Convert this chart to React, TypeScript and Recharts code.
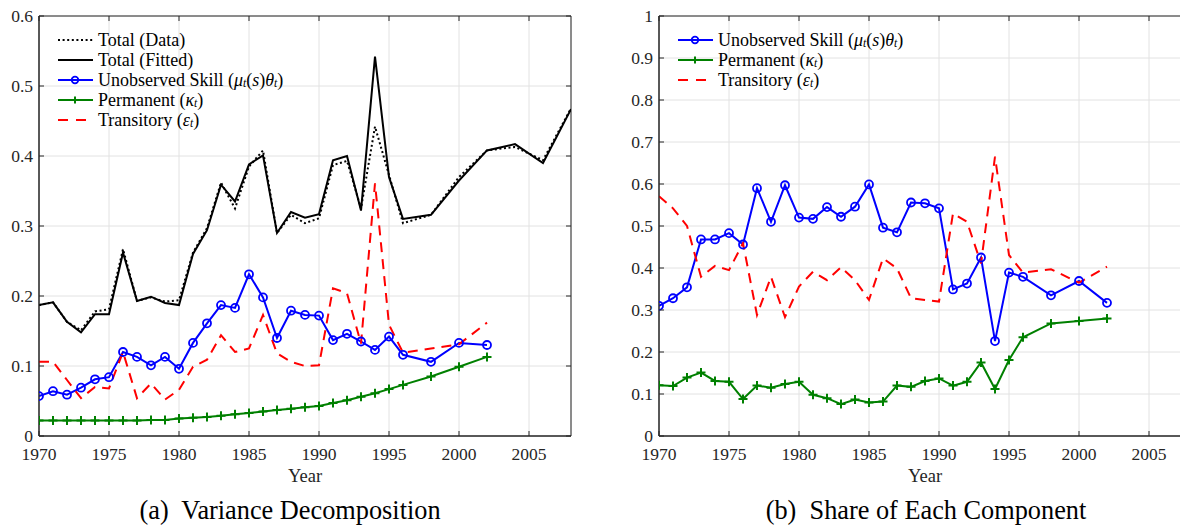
import React from 'react';
import { LineChart, Line, XAxis, YAxis, CartesianGrid, Legend, ReferenceArea } from 'recharts';

// ---------- data ----------
const totalYears = [
  1970, 1971, 1972, 1973, 1974, 1975, 1976, 1977, 1978, 1979, 1980, 1981, 1982, 1983, 1984,
  1985, 1986, 1987, 1988, 1989, 1990, 1991, 1992, 1993, 1994, 1995, 1996, 1998, 2000, 2002,
  2004, 2006, 2008,
];
const componentYears = [
  1970, 1971, 1972, 1973, 1974, 1975, 1976, 1977, 1978, 1979, 1980, 1981, 1982, 1983, 1984,
  1985, 1986, 1987, 1988, 1989, 1990, 1991, 1992, 1993, 1994, 1995, 1996, 1998, 2000, 2002,
];
const totalData = [
  0.187, 0.191, 0.163, 0.151, 0.178, 0.181, 0.267, 0.193, 0.198, 0.192, 0.194, 0.262, 0.297,
  0.362, 0.325, 0.385, 0.408, 0.29, 0.316, 0.304, 0.311, 0.387, 0.393, 0.325, 0.442, 0.373,
  0.304, 0.316, 0.37, 0.408, 0.413, 0.394, 0.468,
];
const totalFitted = [
  0.187, 0.191, 0.163, 0.148, 0.174, 0.174, 0.262, 0.193, 0.199, 0.19, 0.187, 0.26, 0.294,
  0.359, 0.335, 0.388, 0.401, 0.29, 0.32, 0.312, 0.317, 0.394, 0.4, 0.322, 0.542, 0.37, 0.31,
  0.316, 0.365, 0.408, 0.417, 0.39, 0.467,
];
const skillLevel = [
  0.057, 0.064, 0.059, 0.069, 0.081, 0.084, 0.12, 0.113, 0.101, 0.113, 0.096, 0.133, 0.161,
  0.187, 0.183, 0.231, 0.198, 0.14, 0.179, 0.173, 0.172, 0.137, 0.146, 0.135, 0.123, 0.142,
  0.116, 0.106, 0.133, 0.13,
];
const permanentLevel = [
  0.022, 0.022, 0.022, 0.022, 0.022, 0.022, 0.022, 0.022, 0.023, 0.023, 0.025, 0.026, 0.027,
  0.029, 0.031, 0.033, 0.035, 0.037, 0.039, 0.041, 0.043, 0.047, 0.051, 0.056, 0.061, 0.067,
  0.073, 0.085, 0.099, 0.113,
];
const transitoryLevel = [
  0.106, 0.106, 0.08, 0.054, 0.07, 0.068, 0.12, 0.054, 0.075, 0.052, 0.066, 0.099, 0.109,
  0.144, 0.12, 0.125, 0.173, 0.118, 0.106, 0.1, 0.101, 0.211, 0.204, 0.132, 0.361, 0.159,
  0.119, 0.125, 0.131, 0.162,
];
const skillShare = [
  0.31, 0.328, 0.354, 0.468, 0.468, 0.483, 0.456, 0.59, 0.51, 0.597, 0.52, 0.517, 0.545, 0.522,
  0.546, 0.599, 0.496, 0.485, 0.556, 0.554, 0.542, 0.349, 0.363, 0.425, 0.226, 0.389, 0.379,
  0.335, 0.369, 0.317,
];
const permanentShare = [
  0.121, 0.119, 0.139, 0.151, 0.131, 0.129, 0.088, 0.12, 0.115, 0.124, 0.129, 0.098, 0.09,
  0.076, 0.087, 0.08, 0.082, 0.12, 0.117, 0.131, 0.137, 0.12, 0.129, 0.175, 0.112, 0.181, 0.235,
  0.268, 0.274, 0.28,
];
const transitoryShare = [
  0.571, 0.542, 0.5, 0.379, 0.405, 0.395, 0.459, 0.288, 0.379, 0.283, 0.356, 0.391, 0.371,
  0.402, 0.371, 0.324, 0.423, 0.399, 0.328, 0.324, 0.32, 0.53, 0.51, 0.411, 0.665, 0.431, 0.389,
  0.397, 0.365, 0.403,
];
const xTicks = [1970, 1975, 1980, 1985, 1990, 1995, 2000, 2005];
const leftYTicks = [0, 0.1, 0.2, 0.3, 0.4, 0.5, 0.6];
const rightYTicks = [0, 0.1, 0.2, 0.3, 0.4, 0.5, 0.6, 0.7, 0.8, 0.9, 1];

const leftRows = totalYears.map((year, i) => {
  const ci = componentYears.indexOf(year);
  return {
    year,
    totalData: totalData[i],
    totalFitted: totalFitted[i],
    skill: ci >= 0 ? skillLevel[ci] : null,
    permanent: ci >= 0 ? permanentLevel[ci] : null,
    transitory: ci >= 0 ? transitoryLevel[ci] : null,
  };
});
const rightRows = componentYears.map((year, i) => ({
  year,
  skill: skillShare[i],
  permanent: permanentShare[i],
  transitory: transitoryShare[i],
}));

// ---------- styles ----------
const FONT = "'Liberation Serif', 'DejaVu Serif', 'Noto Serif', serif";
const AXIS = '#262626';
const GRID = '#e2e2e2';
const BLUE = '#0000ff';
const GREEN = '#008000';
const RED = '#ff0000';
const PLOT_W = 532;
const PLOT_H = 420;
const TICK_FS = 17.5;

const XTick = (props: any) => {
  const { x, y, payload } = props;
  return (
    <g>
      <line x1={x} x2={x} y1={y} y2={y - 5} stroke={AXIS} strokeWidth={1} />
      <line x1={x} x2={x} y1={y - PLOT_H} y2={y - PLOT_H + 5} stroke={AXIS} strokeWidth={1} />
      <text x={x} y={y + 24} textAnchor="middle" fontSize={TICK_FS} fontFamily={FONT} fill={AXIS}>
        {String(payload.value)}
      </text>
    </g>
  );
};

const YTick = (props: any) => {
  const { x, y, payload } = props;
  return (
    <g>
      <line x1={x} x2={x + 5} y1={y} y2={y} stroke={AXIS} strokeWidth={1} />
      <line x1={x + PLOT_W} x2={x + PLOT_W - 5} y1={y} y2={y} stroke={AXIS} strokeWidth={1} />
      <text x={x - 6} y={y + 6} textAnchor="end" fontSize={TICK_FS} fontFamily={FONT} fill={AXIS}>
        {String(payload.value)}
      </text>
    </g>
  );
};

const CircleDot = (props: any) => {
  const { cx, cy } = props;
  if (cx == null || cy == null) return <g />;
  return <circle cx={cx} cy={cy} r={4} fill="none" stroke={BLUE} strokeWidth={1.8} />;
};
const PlusDot = (props: any) => {
  const { cx, cy } = props;
  if (cx == null || cy == null) return <g />;
  return (
    <path
      d={`M${cx - 4.5},${cy}H${cx + 4.5}M${cx},${cy - 4.5}V${cy + 4.5}`}
      stroke={GREEN}
      strokeWidth={2}
      fill="none"
    />
  );
};

const Sub = ({ children }: any) => (
  <span style={{ fontSize: '0.64em', verticalAlign: '-0.1em', fontStyle: 'italic', lineHeight: 1 }}>
    {children}
  </span>
);

type LegendItem = { kind: string; label: React.ReactNode };
const itemData: LegendItem = { kind: 'dotted', label: 'Total (Data)' };
const itemFitted: LegendItem = { kind: 'solid', label: 'Total (Fitted)' };
const itemSkill: LegendItem = {
  kind: 'circle',
  label: (
    <>
      Unobserved Skill (<i>μ</i>
      <Sub>t</Sub>(<i>s</i>)<i>θ</i>
      <Sub>t</Sub>)
    </>
  ),
};
const itemPerm: LegendItem = {
  kind: 'plus',
  label: (
    <>
      Permanent (<i>κ</i>
      <Sub>t</Sub>)
    </>
  ),
};
const itemTrans: LegendItem = {
  kind: 'dashed',
  label: (
    <>
      Transitory (<i>ε</i>
      <Sub>t</Sub>)
    </>
  ),
};

const Sample = ({ kind }: { kind: string }) => {
  const w = 36;
  const cy = 10;
  let line: React.ReactNode = null;
  if (kind === 'dotted')
    line = <line x1={1} x2={w} y1={cy} y2={cy} stroke="#000" strokeWidth={2} strokeDasharray="2 2.6" />;
  else if (kind === 'solid') line = <line x1={1} x2={w} y1={cy} y2={cy} stroke="#000" strokeWidth={2} />;
  else if (kind === 'circle')
    line = (
      <>
        <line x1={1} x2={w} y1={cy} y2={cy} stroke={BLUE} strokeWidth={2} />
        <circle cx={w / 2} cy={cy} r={3.3} fill="none" stroke={BLUE} strokeWidth={1.8} />
      </>
    );
  else if (kind === 'plus')
    line = (
      <>
        <line x1={1} x2={w} y1={cy} y2={cy} stroke={GREEN} strokeWidth={2} />
        <path d={`M${w / 2 - 3.5},${cy}H${w / 2 + 3.5}M${w / 2},${cy - 3.5}V${cy + 3.5}`} stroke={GREEN} strokeWidth={2} />
      </>
    );
  else line = <line x1={1} x2={w} y1={cy} y2={cy} stroke={RED} strokeWidth={2} strokeDasharray="10 8" />;
  return (
    <svg width={w} height={20} style={{ display: 'block', flex: 'none' }}>
      {line}
    </svg>
  );
};

const LegendBox = ({ items }: { items: LegendItem[] }) => (
  <div style={{ fontFamily: FONT, fontSize: 18, color: '#000' }}>
    {items.map((it, i) => (
      <div key={i} style={{ display: 'flex', alignItems: 'center', height: 20 }}>
        <Sample kind={it.kind} />
        <span style={{ marginLeft: 5, whiteSpace: 'nowrap', lineHeight: '20px' }}>{it.label}</span>
      </div>
    ))}
  </div>
);

const CHART_W = 600;
const CHART_H = 490;
const MARGIN = { top: 16, right: 29, bottom: 4, left: 0 };

function Panel({
  rows,
  yMax,
  yTicks,
  legend,
  showTotals,
}: {
  rows: any[];
  yMax: number;
  yTicks: number[];
  legend: LegendItem[];
  showTotals: boolean;
}) {
  return (
    <LineChart width={CHART_W} height={CHART_H} data={rows} margin={MARGIN}>
      <CartesianGrid stroke={GRID} strokeWidth={1} />
      <XAxis
        dataKey="year"
        type="number"
        domain={[1970, 2008]}
        ticks={xTicks}
        interval={0}
        allowDataOverflow
        tickSize={0}
        tickMargin={0}
        tickLine={false}
        axisLine={{ stroke: AXIS }}
        tick={<XTick />}
        height={50}
        label={{ value: 'Year', position: 'insideBottom', offset: 4, fontSize: 18.5, fontFamily: FONT, fill: AXIS }}
      />
      <YAxis
        type="number"
        domain={[0, yMax]}
        ticks={yTicks}
        interval={0}
        allowDataOverflow
        tickSize={0}
        tickMargin={0}
        tickLine={false}
        axisLine={{ stroke: AXIS }}
        tick={<YTick />}
        width={39}
      />
      <ReferenceArea x1={1970} x2={2008} y1={0} y2={yMax} fill="none" stroke={AXIS} strokeWidth={1} ifOverflow="visible" />
      {showTotals && (
        <Line
          dataKey="totalData"
          stroke="#000"
          strokeWidth={2}
          strokeDasharray="2 2.6"
          dot={false}
          isAnimationActive={false}
        />
      )}
      {showTotals && (
        <Line dataKey="totalFitted" stroke="#000" strokeWidth={2} dot={false} isAnimationActive={false} />
      )}
      <Line
        dataKey="skill"
        stroke={BLUE}
        strokeWidth={2}
        dot={(p: any) => <CircleDot key={`c${p.index}`} {...p} />}
        isAnimationActive={false}
      />
      <Line
        dataKey="permanent"
        stroke={GREEN}
        strokeWidth={2}
        dot={(p: any) => <PlusDot key={`p${p.index}`} {...p} />}
        isAnimationActive={false}
      />
      <Line
        dataKey="transitory"
        stroke={RED}
        strokeWidth={2}
        strokeDasharray="10 7"
        dot={false}
        isAnimationActive={false}
      />
      <Legend
        layout="vertical"
        align="center"
        verticalAlign="middle"
        wrapperStyle={{ left: 57, top: 30, width: 'auto', height: 'auto' }}
        content={() => <LegendBox items={legend} />}
      />
    </LineChart>
  );
}

export default function App() {
  return (
    <div
      style={{
        position: 'absolute',
        left: 0,
        top: 0,
        width: 1180,
        height: 529,
        overflow: 'hidden',
        background: '#fff',
      }}
    >
      <div style={{ position: 'absolute', left: 0, top: 0 }}>
        <Panel
          rows={leftRows}
          yMax={0.6}
          yTicks={leftYTicks}
          legend={[itemData, itemFitted, itemSkill, itemPerm, itemTrans]}
          showTotals
        />
      </div>
      <div style={{ position: 'absolute', left: 620, top: 0 }}>
        <Panel
          rows={rightRows}
          yMax={1}
          yTicks={rightYTicks}
          legend={[itemSkill, itemPerm, itemTrans]}
          showTotals={false}
        />
      </div>
      <div
        style={{
          position: 'absolute',
          left: 0,
          width: 580,
          top: 498,
          textAlign: 'center',
          fontFamily: FONT,
          fontSize: 26.3,
          lineHeight: '26px',
          whiteSpace: 'pre',
          color: '#000',
        }}
      >
        {'(a)  Variance Decomposition'}
      </div>
      <div
        style={{
          position: 'absolute',
          left: 626,
          width: 600,
          top: 498,
          textAlign: 'center',
          fontFamily: FONT,
          fontSize: 26.3,
          lineHeight: '26px',
          whiteSpace: 'pre',
          color: '#000',
        }}
      >
        {'(b)  Share of Each Component'}
      </div>
    </div>
  );
}
